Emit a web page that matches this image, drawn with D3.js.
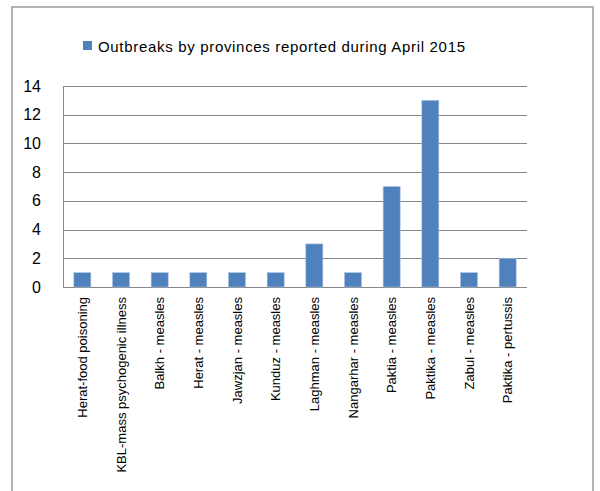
<!DOCTYPE html>
<html><head><meta charset="utf-8">
<script src="https://cdn.jsdelivr.net/npm/d3@7"></script>
<style>body{margin:0;background:#fff}svg{display:block}</style>
</head><body>
<svg id="c" width="600" height="491"></svg>
<script>
const categories = ["Herat-food poisoning","KBL-mass psychogenic illness","Balkh - measles","Herat - measles","Jawzjan - measles","Kunduz - measles","Laghman - measles","Nangarhar - measles","Paktia - measles","Paktika - measles","Zabul - measles","Paktika - pertussis"];
const values = [1,1,1,1,1,1,3,1,7,13,1,2];
const yTicks = [0,2,4,6,8,10,12,14];
const seriesName = "Outbreaks by provinces reported during April 2015";

const svg = d3.select("#c");
const font = "'Liberation Sans Narrow','Arial Narrow','Liberation Sans',Arial,sans-serif";
svg.append("rect").attr("x",12).attr("y",7).attr("width",581).attr("height",495)
  .attr("fill","#fff").attr("stroke","#999").attr("stroke-width",1.5);

const m = {l:63, r:527, t:86, b:287};
const x = d3.scaleBand().domain(categories).range([m.l,m.r]).paddingInner(0.56).paddingOuter(0.28);
const y = d3.scaleLinear().domain([0,14]).range([m.b,m.t]);

const g = svg.append("g");
g.selectAll("line.grid").data(yTicks).join("line")
  .attr("x1",m.l).attr("x2",m.r).attr("y1",d=>Math.round(y(d))+0.5).attr("y2",d=>Math.round(y(d))+0.5)
  .attr("stroke","#868686").attr("stroke-width",1);
g.append("line").attr("x1",m.l+0.5).attr("x2",m.l+0.5).attr("y1",m.t).attr("y2",m.b+0.5).attr("stroke","#868686");

const yAxis = d3.axisLeft(y).tickValues(yTicks).tickSize(0).tickPadding(22);
const ya = svg.append("g").attr("transform",`translate(${m.l},0)`).call(yAxis);
ya.select(".domain").remove();
ya.selectAll("text").attr("font-family","'Liberation Sans',Arial,sans-serif").attr("font-size",16).attr("fill","#000");

g.selectAll("rect.bar").data(values).join("rect")
  .attr("x",(d,i)=>x(categories[i])).attr("width",x.bandwidth())
  .attr("y",d=>y(d)).attr("height",d=>y(0)-y(d))
  .attr("fill","#4F81BD").attr("stroke","#a9c1e0").attr("stroke-width",0.6);

const xAxis = d3.axisBottom(x).tickSize(0).tickPadding(0);
const xa = svg.append("g").attr("transform",`translate(0,${m.b})`).call(xAxis);
xa.select(".domain").remove();
xa.selectAll("text").attr("font-family",font).attr("font-size",13).attr("fill","#000")
  .attr("transform","rotate(-90)").attr("text-anchor","end").attr("dx","-10").attr("dy","0.35em").attr("y",0);

svg.append("rect").attr("x",83).attr("y",41).attr("width",9).attr("height",9).attr("fill","#4F81BD");
svg.append("text").attr("x",98).attr("y",52).attr("font-family","'Liberation Sans',Arial,sans-serif")
  .attr("font-size",15).attr("fill","#000").attr("textLength",367).attr("lengthAdjust","spacing").text(seriesName);
</script>
</body></html>
